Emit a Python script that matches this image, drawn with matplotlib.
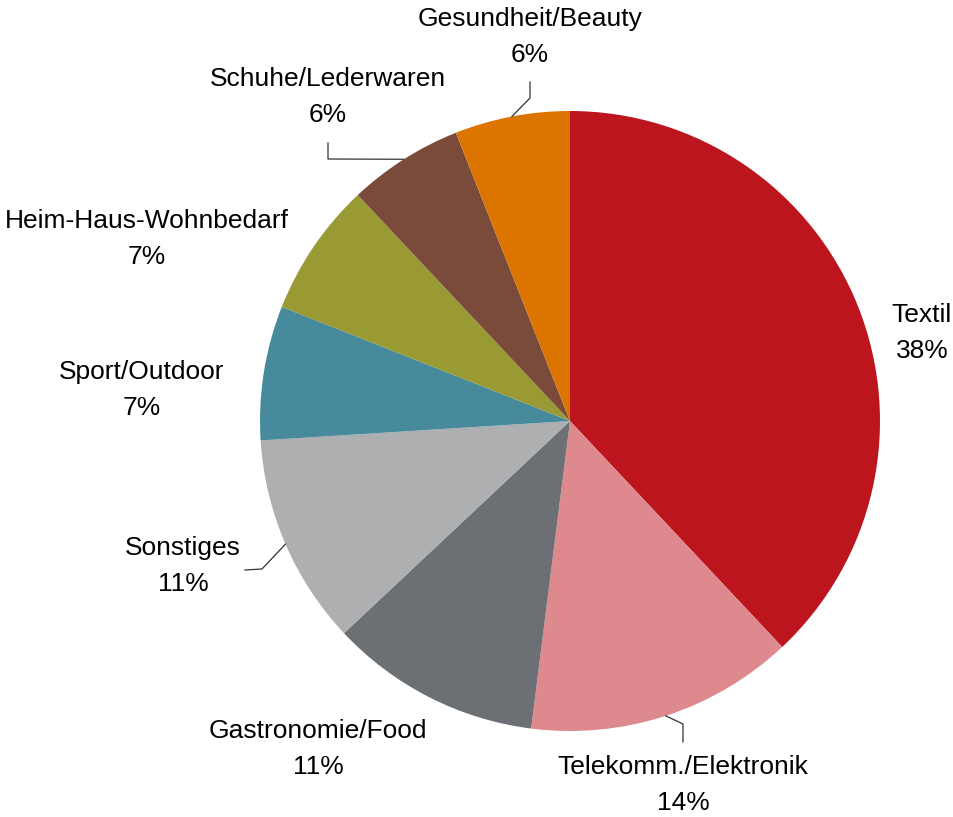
import numpy as np
import matplotlib.pyplot as plt

plt.rcParams['font.family'] = ['Liberation Sans', 'DejaVu Sans']

# Anteile nach Branche (Uhrzeigersinn ab 12 Uhr)
branchen = ['Textil', 'Telekomm./Elektronik', 'Gastronomie/Food', 'Sonstiges',
            'Sport/Outdoor', 'Heim-Haus-Wohnbedarf', 'Schuhe/Lederwaren',
            'Gesundheit/Beauty']
anteile = [38, 14, 11, 11, 7, 7, 6, 6]

farben = ['#BD151D', '#DE898D', '#6C6F74', '#AEAFB1',
          '#468A9B', '#9A9A34', '#7A4A3B', '#DC7500']

W, H = 954, 817
fig = plt.figure(figsize=(W / 100, H / 100), dpi=100)
ax = fig.add_axes([0, 0, 1, 1])

cx, cy, r = 570, H - 421, 310
wedges, _ = ax.pie(anteile, colors=farben, startangle=90, counterclock=False,
                   center=(cx, cy), radius=r, wedgeprops=dict(linewidth=0),
                   frame=True)
ax.set_xlim(0, W)
ax.set_ylim(0, H)
ax.axis('off')

# Beschriftungen (Mitte des Textblocks)
label_pos = [(922, 333), (683, 785), (318, 749), (183, 566),
             (142, 390), (147, 239), (328, 97), (530, 37)]
# Führungslinien: Knick und Endpunkt
leader = {
    1: [(683, 724), (683, 742)],
    3: [(262, 569), (245, 570)],
    6: [(328, 159), (328, 143)],
    7: [(530, 98), (530, 82)],
}

total = sum(anteile)
cum = np.cumsum([0] + anteile)
for i, (name, val) in enumerate(zip(branchen, anteile)):
    lx, ly = label_pos[i]
    ax.text(lx, H - ly, f'{name}\n{val}%', ha='center', va='center',
            fontsize=19, linespacing=1.65, color='black')
    if i in leader:
        mid = np.deg2rad(90 - 360 * (cum[i] + val / 2) / total)
        pts = [(cx + r * np.cos(mid), cy + r * np.sin(mid))]
        pts += [(x, H - y) for x, y in leader[i]]
        xs, ys = zip(*pts)
        ax.plot(xs, ys, color='#333333', lw=0.9)

fig.savefig('out.png', dpi=100, facecolor='white')
